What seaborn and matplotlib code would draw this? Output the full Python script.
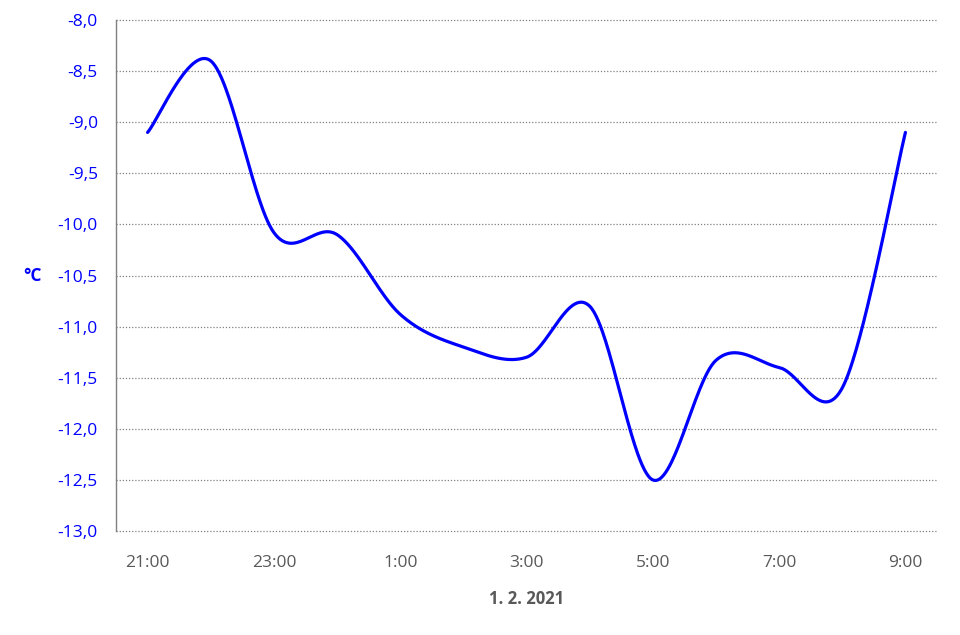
import numpy as np
import pandas as pd
import matplotlib
matplotlib.use("Agg")
import matplotlib.pyplot as plt
import seaborn as sns
from matplotlib.ticker import FuncFormatter, MultipleLocator

# ---- data ----
hours = ["21:00", "22:00", "23:00", "0:00", "1:00", "2:00", "3:00",
         "4:00", "5:00", "6:00", "7:00", "8:00", "9:00"]
temps = [-9.10, -8.40, -10.08, -10.10, -10.88, -11.20, -11.30,
         -10.80, -12.50, -11.33, -11.40, -11.60, -9.10]
tick_labels = ["21:00", "23:00", "1:00", "3:00", "5:00", "7:00", "9:00"]
date_label = "1. 2. 2021"
unit_label = "°C"

# ---- smoothing (Bezier / Catmull-Rom like Excel smoothed line) ----
x = np.arange(len(temps), dtype=float)
y = np.array(temps, dtype=float)
px = np.concatenate([[x[0]], x, [x[-1]]])
py = np.concatenate([[y[0]], y, [y[-1]]])
xs, ys = [], []
t = np.linspace(0, 1, 60)
for i in range(len(x) - 1):
    p0x, p0y = px[i + 1], py[i + 1]
    p3x, p3y = px[i + 2], py[i + 2]
    b1x = p0x + (px[i + 2] - px[i]) / 6
    b1y = p0y + (py[i + 2] - py[i]) / 6
    b2x = p3x - (px[i + 3] - px[i + 1]) / 6
    b2y = p3y - (py[i + 3] - py[i + 1]) / 6
    bx = (1 - t) ** 3 * p0x + 3 * (1 - t) ** 2 * t * b1x + 3 * (1 - t) * t ** 2 * b2x + t ** 3 * p3x
    by = (1 - t) ** 3 * p0y + 3 * (1 - t) ** 2 * t * b1y + 3 * (1 - t) * t ** 2 * b2y + t ** 3 * p3y
    if i > 0:
        bx, by = bx[1:], by[1:]
    xs.append(bx)
    ys.append(by)
df = pd.DataFrame({"x": np.concatenate(xs), "y": np.concatenate(ys)})

# ---- plot ----
sns.set_theme(style="white")
plt.rcParams["font.family"] = ["Open Sans", "DejaVu Sans"]

fig = plt.figure(figsize=(9.6, 6.35), dpi=100)
ax = fig.add_axes([116 / 960, 1 - 531 / 635, (937 - 116) / 960, (531 - 20) / 635])

sns.lineplot(data=df, x="x", y="y", ax=ax, color="#0000FF", linewidth=2.3,
             sort=False, estimator=None)

ax.set_xlim(-0.5, len(hours) - 0.5)
ax.set_ylim(-13.0, -8.0)
ax.yaxis.set_major_locator(MultipleLocator(0.5))
ax.yaxis.set_major_formatter(FuncFormatter(lambda v, p: f"{v:.1f}".replace(".", ",")))
ax.set_xticks([hours.index(h) for h in tick_labels])
ax.set_xticklabels(tick_labels)

ax.grid(axis="y", linestyle=(0, (1, 1.5)), color="#808080", linewidth=0.9)
ax.grid(axis="x", visible=False)
ax.set_axisbelow(True)
for gl in ax.get_ygridlines():
    gl.set_clip_on(False)

for s in ["top", "right", "bottom"]:
    ax.spines[s].set_visible(False)
ax.spines["left"].set_color("#808080")
ax.spines["left"].set_linewidth(1.0)

ax.tick_params(axis="y", length=0, pad=13, labelsize=12.5, labelcolor="#0000FF")
ax.tick_params(axis="x", length=0, pad=17, labelsize=12.5, labelcolor="#595959")

ax.set_xlabel(date_label, fontsize=12, fontweight="bold", color="#595959", labelpad=14)
ax.set_ylabel("")
fig.text(33 / 960, 1 - 276 / 635, unit_label, fontsize=12.5, fontweight="bold",
         color="#0000FF", ha="center", va="center")

fig.savefig("out.png", dpi=100, facecolor="white")
